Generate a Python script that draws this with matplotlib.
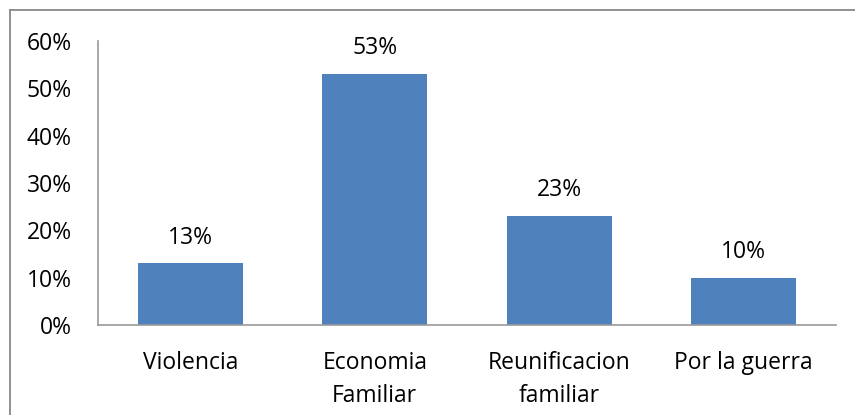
import matplotlib
matplotlib.use("Agg")
import matplotlib.pyplot as plt
from matplotlib.lines import Line2D

categories = ["Violencia", "Economia\nFamiliar", "Reunificacion\nfamiliar", "Por la guerra"]
values = [13, 53, 23, 10]
yticks = [0, 10, 20, 30, 40, 50, 60]
ytick_labels = ["0%", "10%", "20%", "30%", "40%", "50%", "60%"]

plt.rcParams['font.family'] = ['Open Sans', 'DejaVu Sans']
FS = 16.5

fig = plt.figure(figsize=(8.55, 4.15), dpi=100)
ax = fig.add_axes([98/855, 1-325/415, (836-98)/855, (325-41)/415])

x = list(range(len(categories)))
bars = ax.bar(x, values, width=0.57, color="#4F81BD", zorder=2)
for xi, v in zip(x, values):
    ax.annotate(f"{v}%", (xi, v), xytext=(0, 10), textcoords="offset points",
                ha="center", va="bottom", fontsize=FS, color="black")

ax.set_xlim(-0.5, len(categories) - 0.5)
ax.set_ylim(0, 60)
ax.set_yticks(yticks)
ax.set_yticklabels(ytick_labels, fontsize=FS)
ax.set_xticks(x)
ax.set_xticklabels(categories, fontsize=FS, linespacing=1.5)
ax.tick_params(axis="both", length=0)
ax.tick_params(axis="x", pad=19)
ax.tick_params(axis="y", pad=19)
for s in ["top", "right"]:
    ax.spines[s].set_visible(False)
for s in ["left", "bottom"]:
    ax.spines[s].set_color("#999999")
    ax.spines[s].set_linewidth(1.2)

fig.add_artist(Line2D([10/855, 10/855], [0, 1-10/415], transform=fig.transFigure,
                      color="#888888", linewidth=1.3))
fig.add_artist(Line2D([10/855, 1], [1-10/415, 1-10/415], transform=fig.transFigure,
                      color="#888888", linewidth=1.3))

fig.savefig("out.png", dpi=100)
